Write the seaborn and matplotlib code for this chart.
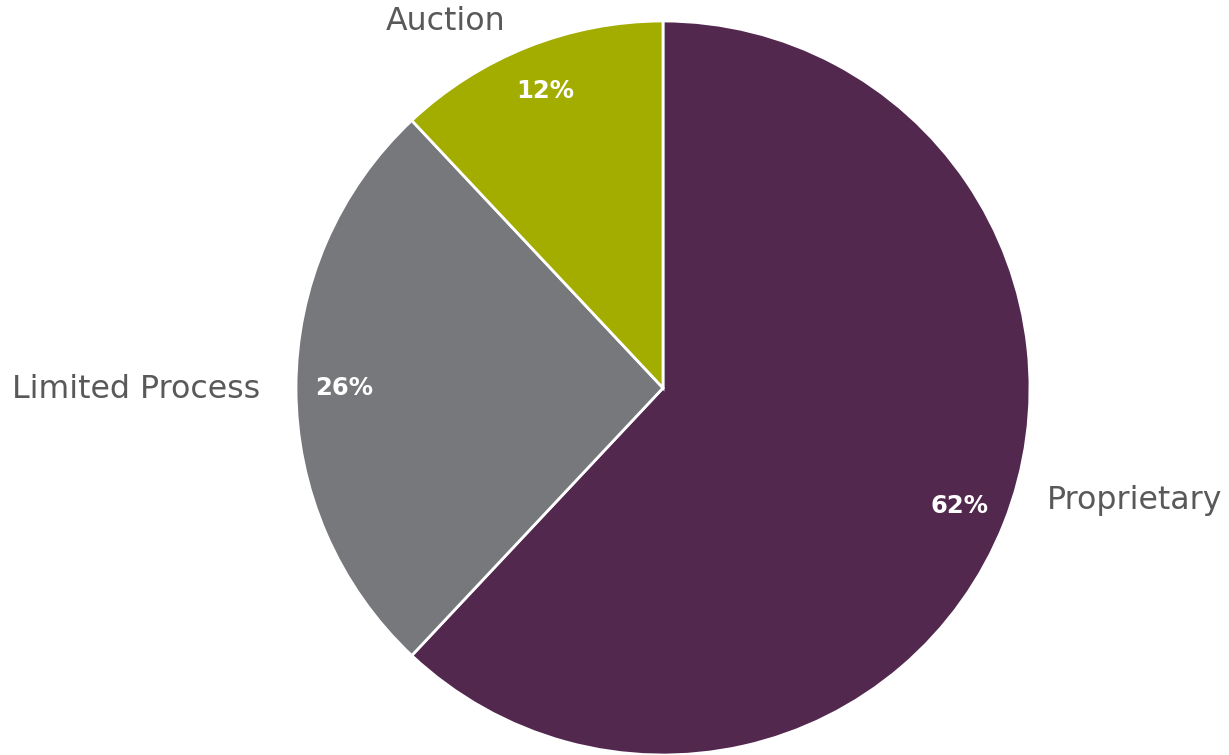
import matplotlib
matplotlib.use("Agg")
import matplotlib.pyplot as plt
import seaborn as sns

sns.set_theme(style="white")
plt.rcParams['font.family'] = ['DejaVu Sans']

categories = ["Proprietary", "Limited Process", "Auction"]
shares = [62, 26, 12]
colors = ["#52284F", "#77787B", "#A3AD00"]

W, H = 1229, 755
fig = plt.figure(figsize=(W / 100, H / 100), dpi=100)
ax = fig.add_axes([0, 0, 1, 1])

cx, cy, R = 663, H - 388, 367
wedges, texts, autotexts = ax.pie(
    shares, labels=categories, colors=colors, startangle=90, counterclock=False,
    center=(cx, cy), radius=R, autopct="%d%%", pctdistance=0.87, labeldistance=1.1,
    wedgeprops=dict(edgecolor="white", linewidth=2),
    textprops=dict(fontsize=22.8, color="#595959"))

ax.set_xlim(0, W)
ax.set_ylim(0, H)
ax.set_aspect("equal")
ax.axis("off")

for t in autotexts:
    t.set_color("white")
    t.set_fontweight("bold")
    t.set_fontsize(17.5)

# label placements (pixel coords from top-left)
label_pos = {"Proprietary": (1047, 501, "left"),
             "Limited Process": (260, 389, "right"),
             "Auction": (446, 21, "center")}
for t in texts:
    x, y, ha = label_pos[t.get_text()]
    t.set_position((x, H - y))
    t.set_ha(ha)
    t.set_va("center")

fig.savefig("out.png", dpi=100)
